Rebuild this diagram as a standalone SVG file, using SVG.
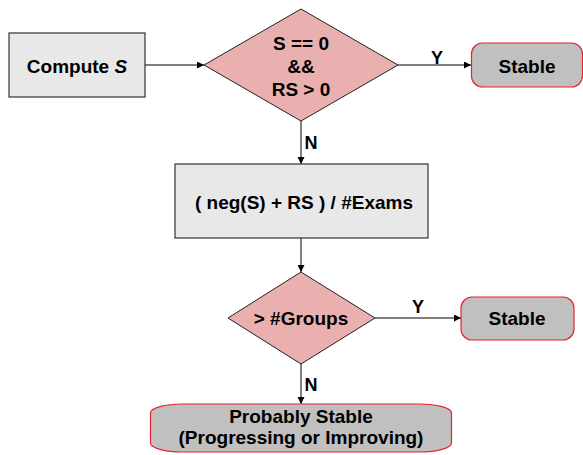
<svg xmlns="http://www.w3.org/2000/svg" width="583" height="455" viewBox="0 0 583 455">
<style>
text{font-family:"Liberation Sans",Arial,sans-serif;font-weight:bold;font-size:19px;fill:#000;text-anchor:middle}
.lbl{font-size:18px}
.proc{fill:#e8e8e8;stroke:#333;stroke-width:1.2}
.dec{fill:#eab0b0;stroke:#222;stroke-width:1}
.term{fill:#c0c0c0;stroke:#e8202a;stroke-width:1.2}
.conn{stroke:#000;stroke-width:1;fill:none;marker-end:url(#ah)}
</style>
<defs>
<marker id="ah" viewBox="0 0 10 10" refX="10" refY="5" markerWidth="7" markerHeight="7" markerUnits="userSpaceOnUse" orient="auto">
<path d="M0,0 L10,5 L0,10 z" fill="#000"/>
</marker>
</defs>
<g id="connectors">
<line class="conn" x1="145" y1="65" x2="204" y2="65"/>
<line class="conn" x1="398" y1="65" x2="471" y2="65"/>
<line class="conn" x1="301" y1="121" x2="301" y2="164"/>
<line class="conn" x1="301" y1="238" x2="301" y2="272"/>
<line class="conn" x1="375" y1="318" x2="461" y2="318"/>
<line class="conn" x1="301" y1="364" x2="301" y2="404"/>
<text class="lbl" x="437" y="64">Y</text>
<text class="lbl" x="311" y="149">N</text>
<text class="lbl" x="418" y="313">Y</text>
<text class="lbl" x="311" y="391">N</text>
</g>
<g id="compute">
<rect class="proc" x="9" y="33" width="136" height="64"/>
<text x="77" y="73">Compute <tspan font-style="italic">S</tspan></text>
</g>
<g id="decision1">
<polygon class="dec" points="301,9 398,65 301,121 204,65"/>
<text x="301" y="50">S == 0</text>
<text x="301" y="73">&amp;&amp;</text>
<text x="301" y="96">RS &gt; 0</text>
</g>
<g id="stable1">
<rect class="term" x="471.5" y="43" width="111" height="44" rx="11" ry="11"/>
<text x="527" y="73">Stable</text>
</g>
<g id="ratio">
<rect class="proc" x="175" y="164" width="253" height="74"/>
<text x="304" y="209">( neg(S) + RS ) / #Exams</text>
</g>
<g id="decision2">
<polygon class="dec" points="301,272 375,318 301,364 228,318"/>
<text x="301" y="325">&gt; #Groups</text>
</g>
<g id="stable2">
<rect class="term" x="461" y="297" width="113" height="43" rx="11" ry="11"/>
<text x="517" y="325">Stable</text>
</g>
<g id="probably">
<rect class="term" x="150.5" y="404" width="301" height="48" rx="32" ry="9"/>
<text x="301" y="423">Probably Stable</text>
<text x="301" y="444">(Progressing or Improving)</text>
</g>
</svg>
